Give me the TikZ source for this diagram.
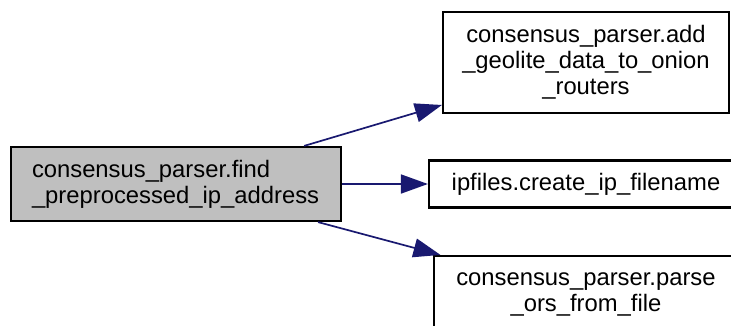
\documentclass[tikz,border=0pt]{standalone}
\usepackage{fontspec}
\setmainfont{Liberation Sans}
\usetikzlibrary{arrows.meta}
\definecolor{edgeblue}{HTML}{191970}
\definecolor{mainfill}{HTML}{BFBFBF}
\tikzset{
  fnbox/.style={draw=black, line width=2.2pt, rectangle, inner sep=0pt,
    font=\fontsize{23.8}{26}\selectfont, align=center},
  callarrow/.style={draw=edgeblue, line width=1.7pt,
    -{Triangle[length=27pt,width=19pt]}, shorten >=0pt}
}
\begin{document}
\begin{tikzpicture}[x=1pt,y=-1pt]
\useasboundingbox (0,0) rectangle (731,325);
\clip (0,0) rectangle (731,325);
\node[fnbox, fill=mainfill, minimum width=330pt, minimum height=74pt,
  text width=288pt, align=left] (main) at (176,184)
  {consensus\_parser.find\\\_preprocessed\_ip\_address};
\node[fnbox, fill=white, minimum width=286pt, minimum height=101pt] (geo) at (586,62.5)
  {consensus\_parser.add\\\_geolite\_data\_to\_onion\\\_routers};
\node[fnbox, fill=white, minimum width=314pt, minimum height=47pt] (ipf) at (586,184)
  {ipfiles.create\_ip\_filename};
\node[fnbox, fill=white, minimum width=304pt, minimum height=76pt] (ors) at (586,294)
  {consensus\_parser.parse\\\_ors\_from\_file};
\draw[callarrow] (main) -- (geo);
\draw[callarrow] (main.east) -- (main.east -| ipf.west);
\draw[callarrow] (main) -- (ors);
\end{tikzpicture}
\end{document}
